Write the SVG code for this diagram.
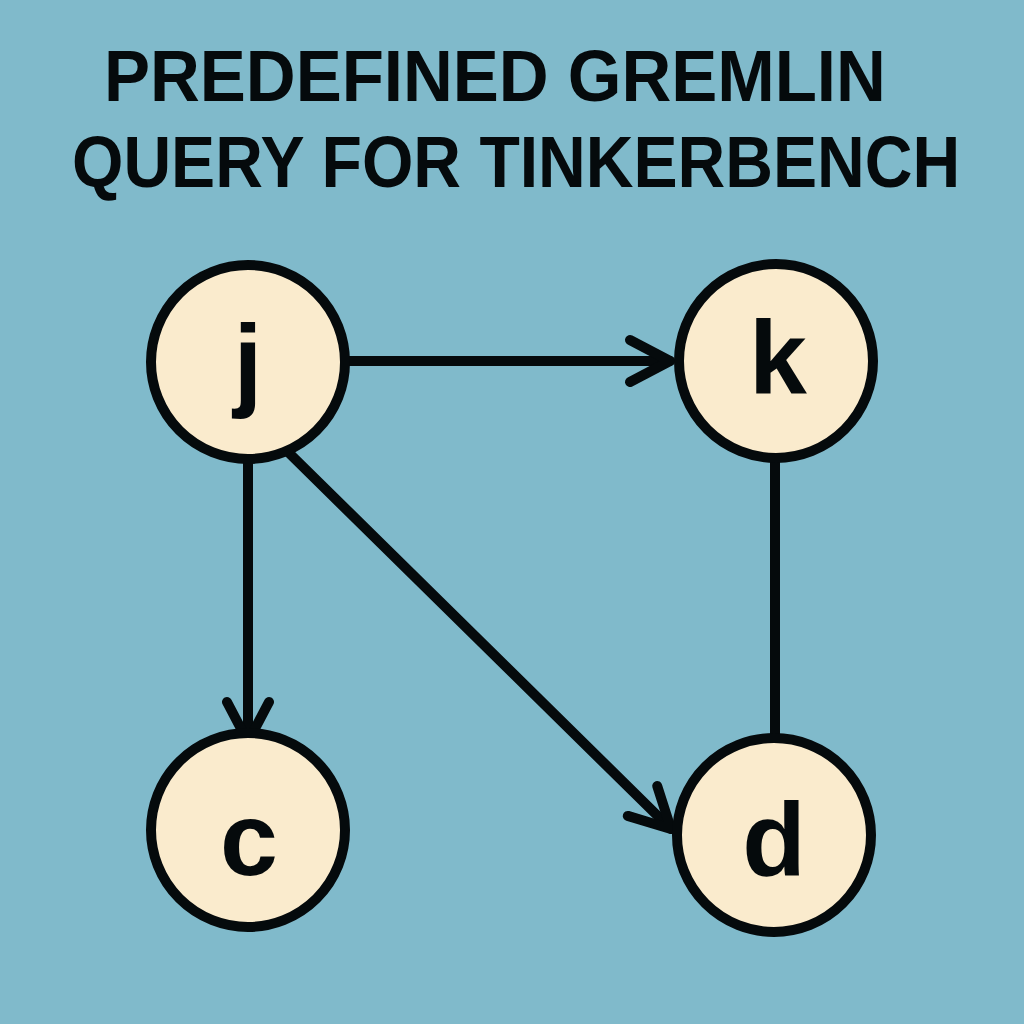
<svg xmlns="http://www.w3.org/2000/svg" width="1024" height="1024" viewBox="0 0 1024 1024">
<style>
.node circle{fill:#FAEBCD;stroke:#050a0c;stroke-width:10}
.node text{font-family:"Liberation Sans",Arial,sans-serif;font-weight:bold;font-size:104px;fill:#050a0c;text-anchor:middle}
.edge{stroke:#050a0c;stroke-width:10;fill:none;stroke-linecap:round}
.title{font-family:"Liberation Sans",Arial,sans-serif;font-weight:bold;font-size:73px;fill:#050a0c}
</style>
<defs>
<marker id="arr" markerUnits="userSpaceOnUse" markerWidth="60" markerHeight="60" viewBox="-50 -30 60 60" refX="0" refY="0" orient="auto">
<path d="M-40,-21 L0,0 L-40,21" fill="none" stroke="#050a0c" stroke-width="10" stroke-linecap="round" stroke-linejoin="round"/>
</marker>
</defs>
<rect width="1024" height="1024" fill="#80BACB"/>
<g id="title">
<text class="title" transform="translate(104,101) scale(0.945,1)">PREDEFINED GREMLIN</text>
<text class="title" transform="translate(72,187) scale(0.905,1)">QUERY FOR TINKERBENCH</text>
</g>
<g id="connectors">
<line class="edge" x1="346" y1="361" x2="670" y2="361" marker-end="url(#arr)"/>
<line class="edge" x1="248" y1="460" x2="248" y2="742" marker-end="url(#arr)"/>
<line class="edge" x1="288" y1="452" x2="671" y2="829" marker-end="url(#arr)"/>
<line class="edge" x1="775" y1="460" x2="775" y2="742" style="stroke-linecap:butt"/>
</g>
<g id="node-j" class="node"><circle cx="248" cy="362" r="97"/><text x="248" y="397">j</text></g>
<g id="node-k" class="node"><circle cx="776" cy="361" r="97"/><text x="778" y="393">k</text></g>
<g id="node-c" class="node"><circle cx="248" cy="830" r="97"/><text x="249" y="875">c</text></g>
<g id="node-d" class="node"><circle cx="774" cy="835" r="97"/><text x="774" y="875">d</text></g>
</svg>
